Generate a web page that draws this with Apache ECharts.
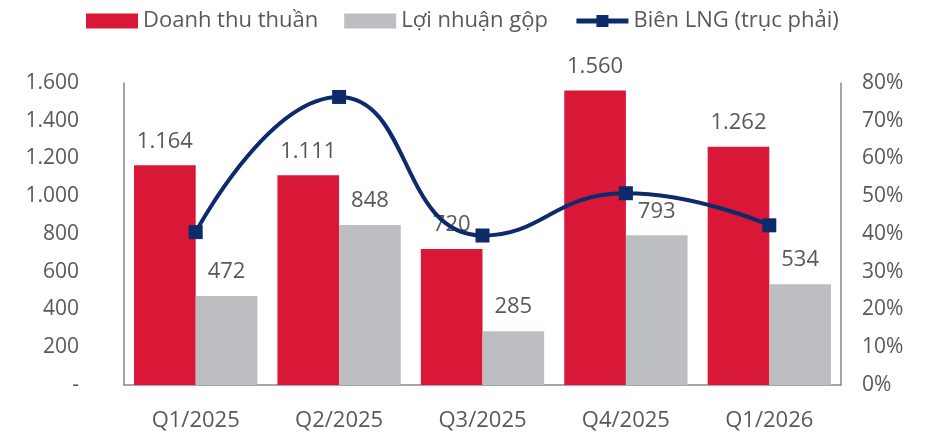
<!DOCTYPE html>
<html>
<head>
<meta charset="utf-8">
<script src="https://cdn.jsdelivr.net/npm/echarts@6/dist/echarts.min.js"></script>
<style>
  html, body { margin: 0; padding: 0; background: #fff; }
  #main { width: 931px; height: 435px; }
</style>
</head>
<body>
<div id="main"></div>
<script>
var quarters = ['Q1/2025', 'Q2/2025', 'Q3/2025', 'Q4/2025', 'Q1/2026'];
var revenue = [1164, 1111, 720, 1560, 1262];
var grossProfit = [472, 848, 285, 793, 534];
var margin = [40.5, 76.3, 39.6, 50.8, 42.3];

var fontName = '"Open Sans", "Noto Sans", sans-serif';
var textColor = '#595959';

// 1600 -> "1.600", 0 -> "-"
function fmt(v) {
    if (v === 0) return '-';
    return String(v).replace(/\B(?=(\d{3})+(?!\d))/g, '.');
}

var chart = echarts.init(document.getElementById('main'));
chart.setOption({
    animation: false,
    textStyle: { fontFamily: fontName },
    legend: {
        top: 5,
        left: 81,
        itemWidth: 52,
        itemHeight: 15,
        itemGap: 26,
        textStyle: { fontSize: 22, color: textColor, fontFamily: fontName },
        data: [
            { name: 'Doanh thu thuần', icon: 'rect' },
            { name: 'Lợi nhuận gộp', icon: 'rect' },
            { name: 'Biên LNG (trục phải)', lineStyle: { width: 5 } }
        ]
    },
    grid: { left: 124, right: 90, top: 83, bottom: 50 },
    xAxis: {
        type: 'category',
        data: quarters,
        axisLine: { lineStyle: { color: '#898989', width: 1.5 } },
        axisTick: { show: false },
        axisLabel: { fontSize: 22, color: textColor, margin: 25 }
    },
    yAxis: [
        {
            type: 'value',
            min: 0, max: 1600, interval: 200,
            axisLine: { show: true, lineStyle: { color: '#898989', width: 1.5 } },
            axisTick: { show: false },
            splitLine: { show: false },
            axisLabel: { fontSize: 21, color: textColor, margin: 45, formatter: fmt }
        },
        {
            type: 'value',
            min: 0, max: 80, interval: 10,
            position: 'right',
            axisLine: { show: true, lineStyle: { color: '#898989', width: 1.5 } },
            axisTick: { show: false },
            splitLine: { show: false },
            axisLabel: { fontSize: 21, color: textColor, margin: 21, formatter: '{value}%' }
        }
    ],
    series: [
        {
            name: 'Doanh thu thuần',
            type: 'bar',
            data: revenue,
            barWidth: '43%',
            barGap: '0%',
            itemStyle: { color: '#D91736' },
            label: { show: true, position: 'top', distance: 13, fontSize: 22, color: textColor, formatter: function (p) { return fmt(p.value); } }
        },
        {
            name: 'Lợi nhuận gộp',
            type: 'bar',
            data: grossProfit,
            barWidth: '43%',
            itemStyle: { color: '#BDBEC1' },
            label: { show: true, position: 'top', distance: 13, fontSize: 22, color: textColor, formatter: function (p) { return fmt(p.value); } }
        },
        {
            name: 'Biên LNG (trục phải)',
            type: 'line',
            yAxisIndex: 1,
            data: margin,
            smooth: true,
            symbol: 'rect',
            symbolSize: 14,
            lineStyle: { color: '#0D2A6B', width: 4 },
            itemStyle: { color: '#0D2A6B' },
            z: 5
        }
    ]
});
</script>
</body>
</html>
